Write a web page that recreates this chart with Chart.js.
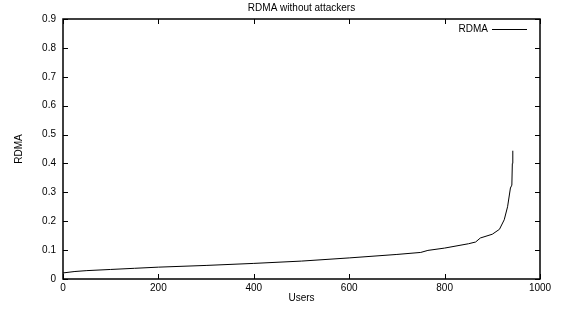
<!DOCTYPE html>
<html>
<head>
<meta charset="utf-8">
<script src="https://cdn.jsdelivr.net/npm/chart.js@4/dist/chart.umd.min.js"></script>
<style>
  html, body { margin: 0; padding: 0; background: #fff; }
  #box { width: 563px; height: 311px; }
</style>
</head>
<body>
<div id="box"><canvas id="rdmaChart"></canvas></div>
<script>
const chartTitle = "RDMA without attackers";
const seriesName = "RDMA";
const xTitle = "Users";
const yTitle = "RDMA";

// users (sorted) and their RDMA value
const users = [0, 25, 50, 100, 150, 200, 300, 400, 500, 600, 700, 750, 765, 800, 850, 865, 875, 900, 915, 925, 932, 938, 941, 942, 943];
const rdmaValues = [0.021, 0.026, 0.029, 0.033, 0.037, 0.041, 0.047, 0.054, 0.062, 0.073, 0.085, 0.092, 0.099, 0.107, 0.122, 0.128, 0.142, 0.155, 0.172, 0.205, 0.25, 0.315, 0.325, 0.40, 0.444];

const xTicks = [0, 200, 400, 600, 800, 1000];
const yTicks = [0, 0.1, 0.2, 0.3, 0.4, 0.5, 0.6, 0.7, 0.8, 0.9];

const points = users.map((u, i) => ({ x: u, y: rdmaValues[i] }));
const font = { family: "'Liberation Sans', Arial, sans-serif", size: 10, weight: "normal" };

// gnuplot style frame, inward ticks and legend
const framePlugin = {
  id: "frame",
  afterDraw(chart) {
    const ctx = chart.ctx;
    const a = chart.chartArea;
    const xs = chart.scales.x;
    const ys = chart.scales.y;
    ctx.save();
    ctx.strokeStyle = "#000";
    ctx.lineWidth = 1.5;
    ctx.strokeRect(a.left, a.top, a.right - a.left, a.bottom - a.top);
    ctx.lineWidth = 1;
    ctx.beginPath();
    xTicks.forEach((v) => {
      const px = Math.round(xs.getPixelForValue(v)) + 0.5;
      ctx.moveTo(px, a.bottom); ctx.lineTo(px, a.bottom - 5);
      ctx.moveTo(px, a.top); ctx.lineTo(px, a.top + 5);
    });
    yTicks.forEach((v) => {
      const py = Math.round(ys.getPixelForValue(v)) + 0.5;
      ctx.moveTo(a.left, py); ctx.lineTo(a.left + 5, py);
      ctx.moveTo(a.right, py); ctx.lineTo(a.right - 5, py);
    });
    ctx.stroke();
    // legend
    const ly = a.top + 10.5;
    ctx.font = font.size + "px " + font.family;
    ctx.fillStyle = "#000";
    ctx.textAlign = "right";
    ctx.textBaseline = "middle";
    ctx.fillText(seriesName, a.right - 52, ly);
    ctx.beginPath();
    ctx.moveTo(a.right - 48, ly);
    ctx.lineTo(a.right - 13, ly);
    ctx.stroke();
    ctx.restore();
  },
};

new Chart(document.getElementById("rdmaChart"), {
  type: "line",
  data: {
    datasets: [
      {
        label: seriesName,
        data: points,
        borderColor: "#000",
        borderWidth: 1,
        pointRadius: 0,
        fill: false,
        tension: 0,
      },
    ],
  },
  options: {
    responsive: true,
    maintainAspectRatio: false,
    animation: false,
    layout: { padding: { left: 5, right: 23, top: 0, bottom: 7 } },
    plugins: {
      legend: { display: false },
      tooltip: { enabled: false },
      title: {
        display: true,
        fullSize: false,
        text: chartTitle,
        color: "#000",
        font: font,
        padding: { top: 2, bottom: 5 },
      },
    },
    scales: {
      x: {
        type: "linear",
        min: 0,
        max: 1000,
        afterBuildTicks: (s) => { s.ticks = xTicks.map((v) => ({ value: v })); },
        afterFit: (s) => { s.height = 25; },
        grid: { display: false, drawTicks: false },
        border: { display: false },
        ticks: { color: "#000", font: font, padding: 3, maxRotation: 0, callback: (v) => String(v) },
        title: { display: true, text: xTitle, color: "#000", font: font, padding: 0 },
      },
      y: {
        min: 0,
        max: 0.9,
        afterBuildTicks: (s) => { s.ticks = yTicks.map((v) => ({ value: v })); },
        afterFit: (s) => { s.width = 58; },
        grid: { display: false, drawTicks: false },
        border: { display: false },
        ticks: {
          color: "#000",
          font: font,
          padding: 7,
          callback: (v) => (v === 0 ? "0" : v.toFixed(1)),
        },
        title: { display: true, text: yTitle, color: "#000", font: font, padding: 8 },
      },
    },
  },
  plugins: [framePlugin],
});
</script>
</body>
</html>
